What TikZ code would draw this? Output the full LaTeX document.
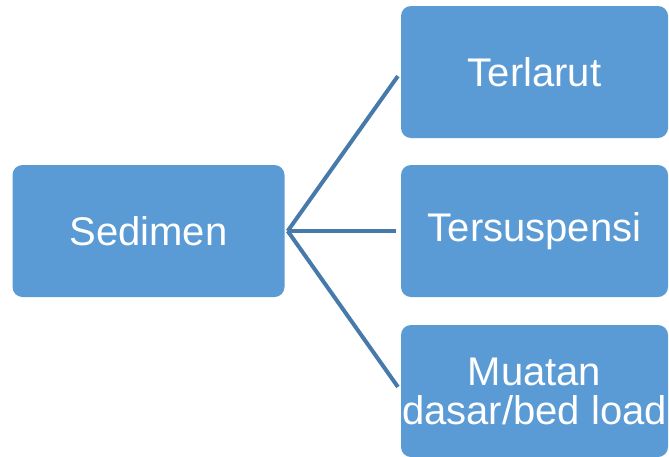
\documentclass[tikz,border=0pt]{standalone}
\usepackage{fontspec}
\setmainfont{Liberation Sans}
\definecolor{boxblue}{RGB}{91,155,213}
\definecolor{linkblue}{RGB}{70,122,170}
\tikzset{
  kotak/.style={fill=boxblue, rounded corners=10pt, text=white, align=center,
    inner sep=0pt, font=\fontsize{40}{39}\selectfont},
  link/.style={draw=linkblue, line width=4pt, shorten >=5pt}
}

\begin{document}
\begin{tikzpicture}[x=1pt, y=-1pt]
\useasboundingbox (0,0) rectangle (669,456);
\node[kotak, minimum width=272pt, minimum height=132pt] (sed) at (148.5,231) {Sedimen};
\node[kotak, minimum width=267pt, minimum height=132pt] (ter) at (534.5,72) {Terlarut};
\node[kotak, minimum width=267pt, minimum height=132pt] (sus) at (534.5,231) {Tersuspensi};
\node[kotak, minimum width=267pt, minimum height=132pt] (bed) at (534.5,391) {Muatan\\dasar/bed load};
\coordinate (hub) at ([xshift=3pt]sed.east);
\draw[link] (hub) -- (ter.west);
\draw[link] (hub) -- (sus.west);
\draw[link] (hub) -- (bed.west);
\end{tikzpicture}
\end{document}
